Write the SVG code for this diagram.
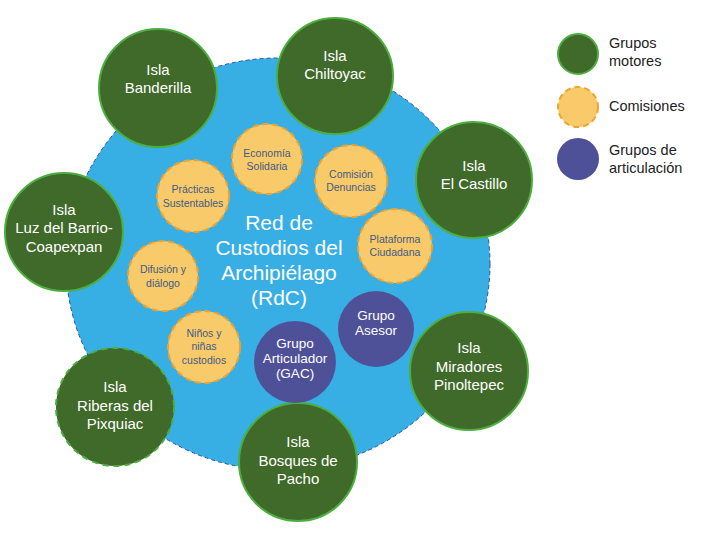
<svg xmlns="http://www.w3.org/2000/svg" width="701" height="540" viewBox="0 0 701 540">
<style>
.bg{fill:#38afe4;stroke:#2f4f9a;stroke-width:1;stroke-dasharray:4 3}
.g{fill:#3f6a2a;stroke:#4cae3f;stroke-width:2}
.gd{fill:#3f6a2a;stroke:#4cae3f;stroke-width:2;stroke-dasharray:6 5}
.y{fill:#f9ca6a;stroke:#f2a22c;stroke-width:2;stroke-dasharray:6 4}
.p{fill:#4f5198}
text{font-family:"Liberation Sans",Arial,sans-serif;text-anchor:middle}
.tg{fill:#ffffff;font-size:15px}
.ty{fill:#3f5b86;font-size:10.5px}
.tp{fill:#ffffff;font-size:13.5px}
.tc{fill:#ffffff;font-size:21px}
.tl{fill:#222222;font-size:14.5px;text-anchor:start}
</style>
<g id="red">
<ellipse class="bg" cx="278" cy="264" rx="212" ry="206"/>
<text class="tc"><tspan x="279" y="230">Red de</tspan><tspan x="279" y="255">Custodios del</tspan><tspan x="279" y="280">Archipiélago</tspan><tspan x="279" y="305">(RdC)</tspan></text>
</g>
<g id="connectors"></g>
<g id="banderilla"><circle class="g" cx="158" cy="88" r="59"/><text class="tg"><tspan x="158" y="75">Isla</tspan><tspan x="158" y="93">Banderilla</tspan></text></g>
<g id="chiltoyac"><circle class="g" cx="335" cy="76" r="58"/><text class="tg"><tspan x="335" y="61">Isla</tspan><tspan x="335" y="79">Chiltoyac</tspan></text></g>
<g id="castillo"><circle class="g" cx="474" cy="180" r="58"/><text class="tg"><tspan x="474" y="171">Isla</tspan><tspan x="474" y="189">El Castillo</tspan></text></g>
<g id="luz"><circle class="g" cx="64" cy="232" r="59"/><text class="tg"><tspan x="64" y="215">Isla</tspan><tspan x="64" y="233">Luz del Barrio-</tspan><tspan x="64" y="252">Coapexpan</tspan></text></g>
<g id="miradores"><circle class="g" cx="469" cy="371" r="59"/><text class="tg"><tspan x="469" y="353">Isla</tspan><tspan x="469" y="372">Miradores</tspan><tspan x="469" y="390">Pinoltepec</tspan></text></g>
<g id="riberas"><circle class="gd" cx="115" cy="407" r="59"/><text class="tg"><tspan x="115" y="392">Isla</tspan><tspan x="115" y="411">Riberas del</tspan><tspan x="115" y="429">Pixquiac</tspan></text></g>
<g id="bosques"><circle class="g" cx="298" cy="462" r="59"/><text class="tg"><tspan x="298" y="447">Isla</tspan><tspan x="298" y="466">Bosques de</tspan><tspan x="298" y="484">Pacho</tspan></text></g>
<g id="economia"><circle class="y" cx="267" cy="159" r="35"/><text class="ty"><tspan x="267" y="157">Economía</tspan><tspan x="267" y="170">Solidaria</tspan></text></g>
<g id="denuncias"><circle class="y" cx="351" cy="181" r="36"/><text class="ty"><tspan x="351" y="178">Comisión</tspan><tspan x="351" y="191">Denuncias</tspan></text></g>
<g id="practicas"><circle class="y" cx="193" cy="196" r="36"/><text class="ty"><tspan x="193" y="193">Prácticas</tspan><tspan x="193" y="207">Sustentables</tspan></text></g>
<g id="plataforma"><circle class="y" cx="395" cy="246" r="37"/><text class="ty"><tspan x="395" y="243">Plataforma</tspan><tspan x="395" y="256">Ciudadana</tspan></text></g>
<g id="difusion"><circle class="y" cx="163" cy="276" r="35"/><text class="ty"><tspan x="163" y="273">Difusión y</tspan><tspan x="163" y="287">diálogo</tspan></text></g>
<g id="ninos"><circle class="y" cx="204" cy="347" r="36"/><text class="ty"><tspan x="204" y="337">Niños y</tspan><tspan x="204" y="350">niñas</tspan><tspan x="204" y="364">custodios</tspan></text></g>
<g id="gac"><circle class="p" cx="295" cy="362" r="41"/><text class="tp"><tspan x="295" y="348">Grupo</tspan><tspan x="295" y="363">Articulador</tspan><tspan x="295" y="378">(GAC)</tspan></text></g>
<g id="asesor"><circle class="p" cx="376" cy="329" r="38"/><text class="tp"><tspan x="376" y="320">Grupo</tspan><tspan x="376" y="335">Asesor</tspan></text></g>
<g id="legend">
<circle class="g" cx="578" cy="54" r="20"/>
<circle class="y" cx="578" cy="107" r="20"/>
<circle class="p" cx="578" cy="159" r="21"/>
<text class="tl"><tspan x="609" y="48">Grupos</tspan><tspan x="609" y="66">motores</tspan></text>
<text class="tl" x="609" y="111">Comisiones</text>
<text class="tl"><tspan x="609" y="155">Grupos de</tspan><tspan x="609" y="173">articulación</tspan></text>
</g>
</svg>
